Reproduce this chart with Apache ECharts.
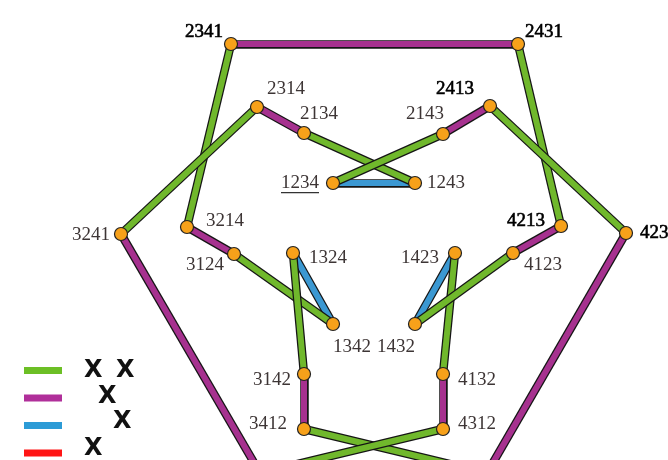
<!DOCTYPE html>
<html>
<head>
<meta charset="utf-8">
<script src="https://cdn.jsdelivr.net/npm/echarts@6/dist/echarts.min.js"></script>
<style>
  html, body { margin: 0; padding: 0; background: #fff; }
  #main { width: 668px; height: 460px; }
</style>
</head>
<body>
<div id="main"></div>
<script>
(function(){
	// permutations (nodes) and where they sit in the drawing
	var nodeNames = ['2341','2431','2314','2134','2143','2413','1234','1243',
		'3241','3214','3124','1324','1342','1432','1423','4123','4213','4231',
		'3142','3412','4132','4312','3421','4321'];
	var nodeX = [231,518,257,304,443,490,333,415,
		121,187,234,293,333,415,455,513,561,626,
		304,304,443,443,260,487];
	var nodeY = [44,44,107,133,134,106,183,183,
		234,227,254,253,324,324,253,253,226,233,
		374,429,374,429,473,473];

	// edges of the graph, by generator
	var greenEdges = [['2341','3214'],['2431','4213'],['2314','3241'],['2134','1243'],
		['2143','1234'],['2413','4231'],['3124','1342'],['1324','3142'],
		['1423','4132'],['4123','1432'],['3412','4321'],['4312','3421']];
	var magentaEdges = [['2341','2431'],['2314','2134'],['2143','2413'],['3214','3124'],
		['4213','4123'],['3142','3412'],['4132','4312'],['3241','3421'],['4231','4321']];
	var blueEdges = [['1234','1243'],['1324','1342'],['1423','1432']];

	var legendLabels = ['X X','X','X','X'];

	// label placement (pixels from node centre) and emphasis
	var labelOffset = {
		'2341':[-27,-12],'2431':[26,-12],'2314':[29,-18],'2134':[15,-19],
		'2143':[-18,-20],'2413':[-35,-17],'1234':[-33,0],'1243':[31,0],
		'3241':[-30,1],'3214':[38,-6],'3124':[-29,11],'1324':[35,5],
		'1342':[19,23],'1432':[-19,23],'1423':[-35,5],'4123':[30,12],
		'4213':[-35,-5],'4231':[33,0],'3142':[-32,6],'3412':[-36,-5],
		'4132':[34,6],'4312':[34,-5]
	};
	var darkLabels = ['2341','2431','2413','4213','4231'];

	var pos = {};
	nodeNames.forEach(function(n, i){ pos[n] = [nodeX[i], nodeY[i]]; });

	var lineData = [];
	function addEdges(list, color){
		list.forEach(function(e){
			var c = [pos[e[0]], pos[e[1]]];
			lineData.push({coords: c, lineStyle: {color: '#151515', width: 8.5, opacity: 1, cap: 'butt'}});
			lineData.push({coords: c, lineStyle: {color: color, width: 6, opacity: 1, cap: 'butt'}});
		});
	}
	addEdges(blueEdges, '#3b98d2');
	addEdges(magentaEdges, '#a6318f');
	addEdges(greenEdges, '#70b82c');

	var scatterData = nodeNames.map(function(n){
		var off = labelOffset[n];
		var dark = darkLabels.indexOf(n) >= 0;
		return {
			name: n,
			value: pos[n],
			label: {
				show: !!off,
				offset: off || [0,0],
				color: dark ? '#000' : '#3d3535',
				textBorderColor: dark ? '#000' : 'transparent',
				textBorderWidth: dark ? 0.6 : 0
			}
		};
	});

	var legendColors = ['#6cbf25','#b02f9a','#2c9bd6','#ff1515'];
	// x position of every X glyph in each legend row
	var legendGlyphX = [[84,116],[98],[113],[84]];
	var legendRowY = [361, 387, 412, 439];
	var graphic = [];
	legendColors.forEach(function(c, i){
		graphic.push({type:'rect', left: 24, top: 367 + i * 27.5, shape:{width: 38, height: 7}, style:{fill: c}});
		var glyphs = legendLabels[i].split(' ');
		glyphs.forEach(function(g, k){
			graphic.push({type:'text', left: legendGlyphX[i][k], top: legendRowY[i] - 2,
				style:{text: g, fill:'#111', font:'bold 24px "DejaVu Sans", sans-serif'}});
		});
	});
	// underline of the identity permutation
	graphic.push({type:'rect', left: 281, top: 192, shape:{width: 38, height: 1.2}, style:{fill:'#333'}});

	var option = {
		animation: false,
		backgroundColor: '#fff',
		grid: {left: 0, right: 0, top: 0, bottom: 0},
		xAxis: {type:'value', min: 0, max: 668, show: false},
		yAxis: {type:'value', min: 0, max: 460, inverse: true, show: false},
		graphic: graphic,
		series: [
			{
				type: 'lines',
				coordinateSystem: 'cartesian2d',
				polyline: false,
				z: 2,
				clip: false,
				data: lineData
			},
			{
				type: 'scatter',
				z: 3,
				symbol: 'circle',
				symbolSize: 13,
				itemStyle: {color: '#f7a11a', borderColor: '#222', borderWidth: 1.2, opacity: 1},
				label: {
					position: 'inside',
					formatter: '{b}',
					fontFamily: '"Liberation Serif", serif',
					fontSize: 19
				},
				data: scatterData
			}
		]
	};
	var chart = echarts.init(document.getElementById('main'));
	chart.setOption(option);
})();
</script>
</body>
</html>
